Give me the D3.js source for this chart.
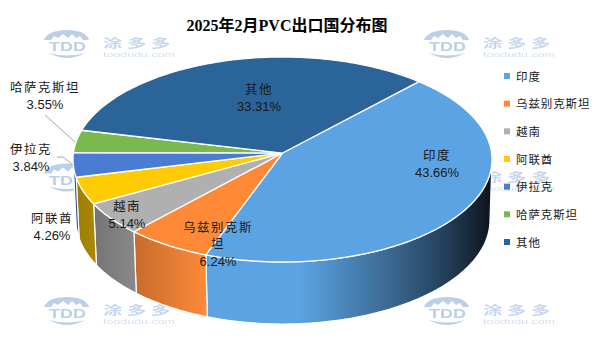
<!DOCTYPE html>
<html>
<head>
<meta charset="utf-8">
<script src="https://cdn.jsdelivr.net/npm/d3@7/dist/d3.min.js"></script>
<style>
html, body { margin: 0; padding: 0; background: #fff; }
text { font-family: "Noto Sans CJK SC", "Liberation Sans", sans-serif; fill: #1a1a1a; }
</style>
</head>
<body>
<div id="chart"></div>
<script>
var categories = ["印度", "乌兹别克斯坦", "越南", "阿联酋", "伊拉克", "哈萨克斯坦", "其他"];
var shares = [43.66, 6.24, 5.14, 4.26, 3.84, 3.55, 33.31];
var shareLabels = ["43.66%", "6.24%", "5.14%", "4.26%", "3.84%", "3.55%", "33.31%"];
var colors = ["#5ba3e2", "#fe8a38", "#b0b0b0", "#ffcb05", "#4a7dd2", "#7ab94d", "#2b6499"];
var chartTitle = "2025年2月PVC出口国分布图";

var width = 600, height = 360;

var svg = d3.select("#chart").append("svg")
    .attr("width", width)
    .attr("height", height)
    .style("display", "block");

var defs = svg.append("defs");

defs.append("filter").attr("id", "soft")
    .append("feGaussianBlur").attr("stdDeviation", 0.45);

// watermark, repeated behind the pie
function watermark(x, y) {
    var g = svg.append("g")
        .attr("transform", "translate(" + x + "," + y + ")")
        .attr("filter", "url(#soft)");
    var wm = "#bccfe9";
    g.append("path")
        .attr("d", "M1,10 Q5,0 24,0 Q43,0 46,10 L40,10 L37,6 L33,8 L29,4 L25,8 L20,4 L15,8 L11,6 L8,10 Z")
        .attr("fill", wm);
    g.append("path")
        .attr("d", "M6,23 Q24,33 42,23 Q24,28 6,23 Z")
        .attr("fill", wm);
    g.append("text").attr("x", 6).attr("y", 21)
        .attr("textLength", 37).attr("lengthAdjust", "spacingAndGlyphs")
        .style("font-family", "Liberation Sans").style("font-weight", "bold")
        .style("font-size", "13px").style("fill", wm)
        .text("TDD");
    // the three characters are drawn wider than they are tall
    var wordScale = 1.55;
    g.append("g")
        .attr("transform", "translate(60,18) scale(" + wordScale + ",1)")
        .append("text")
        .style("font-weight", "bold").style("font-size", "12.5px")
        .style("letter-spacing", "3px").style("fill", "#c6d6ec")
        .text("涂多多");
    g.append("text").attr("x", 60).attr("y", 27)
        .attr("textLength", 72).attr("lengthAdjust", "spacingAndGlyphs")
        .style("font-family", "Liberation Sans")
        .style("font-size", "8px").style("fill", "#d3dfef")
        .text("toodudu.com");
}
[30, 163.5, 297].forEach(function(y) {
    watermark(43, y);
    watermark(423, y);
});

// pie geometry: the disc is seen in perspective, so the apex sits above the ellipse centre
var top_ = {cx: 282.5, cy: 159.5, rx: 209.5, ry: 102.5};
var bottom_ = {cx: 283, cy: 220, rx: 207, ry: 104};
var k = -0.063;
var startDeg = 43;

function project(angle, e) {
    var u = Math.sin(angle), v = -Math.cos(angle);
    var d = 1 + k * v;
    return [
        e.cx + e.rx * Math.sqrt(1 - k * k) * u / d,
        e.cy + e.ry * (v + k) / d
    ];
}

var apex = [top_.cx, top_.cy + top_.ry * k];

var pie = d3.pie()
    .sort(null)
    .startAngle(startDeg * Math.PI / 180)
    .endAngle(startDeg * Math.PI / 180 + 2 * Math.PI);

var arcs = pie(shares);
var line = d3.line();

function rimPoints(a0, a1, e) {
    var n = Math.max(2, Math.ceil((a1 - a0) / 0.02));
    return d3.range(n + 1).map(function(i) {
        return project(a0 + (a1 - a0) * i / n, e);
    });
}

// wall shading runs left to right across the whole pie
var shadeStops = [[78, 0.62], [135, 0.78], [206, 1.0], [300, 1.0], [380, 0.68], [440, 0.42], [475, 0.22], [491, 0.12]];
var xFrac = d3.scaleLinear().domain([78, 491]).range([0, 1]);

colors.forEach(function(c, i) {
    var grad = defs.append("linearGradient")
        .attr("id", "wall" + i)
        .attr("gradientUnits", "userSpaceOnUse")
        .attr("x1", 78).attr("x2", 491).attr("y1", 0).attr("y2", 0);
    shadeStops.forEach(function(s) {
        var col = d3.rgb(c);
        grad.append("stop")
            .attr("offset", xFrac(s[0]))
            .attr("stop-color", d3.rgb(col.r * s[1], col.g * s[1], col.b * s[1]).formatHex());
    });
});

// only the front part of the rim has a visible wall
var visFrom = Math.acos(k);
var visTo = 2 * Math.PI - visFrom;

var walls = [];
arcs.forEach(function(d, i) {
    var a0 = d.startAngle, a1 = d.endAngle;
    if (a0 > 2 * Math.PI) { a0 -= 2 * Math.PI; a1 -= 2 * Math.PI; }
    var from = Math.max(a0, visFrom), to = Math.min(a1, visTo);
    if (to > from) walls.push({i: i, from: from, to: to});
});

svg.append("g").selectAll("path")
    .data(walls)
    .enter().append("path")
    .attr("d", function(d) {
        var pts = rimPoints(d.from, d.to, top_).concat(rimPoints(d.from, d.to, bottom_).reverse());
        return line(pts) + "Z";
    })
    .attr("fill", function(d) { return "url(#wall" + d.i + ")"; })
    .attr("stroke", "#fff")
    .attr("stroke-width", 1.2)
    .attr("stroke-linejoin", "round");

svg.append("g").selectAll("path")
    .data(arcs)
    .enter().append("path")
    .attr("d", function(d) {
        return line([apex].concat(rimPoints(d.startAngle, d.endAngle, top_))) + "Z";
    })
    .attr("fill", function(d, i) { return colors[i]; })
    .attr("stroke", "#fff")
    .attr("stroke-width", 1.3)
    .attr("stroke-linejoin", "round");

// leader lines
var leaders = [
    [[45, 115], [75, 142]],
    [[57, 157], [63, 157], [73, 165]]
];
svg.append("g").selectAll("path")
    .data(leaders)
    .enter().append("path")
    .attr("d", function(d) { return line(d); })
    .attr("fill", "none")
    .attr("stroke", "#a6a6a6")
    .attr("stroke-width", 1);

// data labels, placed by hand like the original
var labelPos = [[437, 155], [218, 227], [127, 206], [52, 218], [31, 149], [45, 87], [259, 89]];

var labels = svg.append("g").selectAll("g")
    .data(categories)
    .enter().append("g")
    .attr("transform", function(d, i) { return "translate(" + labelPos[i][0] + "," + labelPos[i][1] + ")"; });

labels.each(function(name, i) {
    var g = d3.select(this);
    var rows = i === 1 ? [name.slice(0, 5), name.slice(5)] : [name];
    rows.forEach(function(r, j) {
        g.append("text")
            .attr("text-anchor", "middle")
            .attr("y", j * 16 + 4.5)
            .style("font-size", "12.5px")
            .style("letter-spacing", "1.5px")
            .text(r);
    });
    g.append("text")
        .attr("text-anchor", "middle")
        .attr("y", (rows.length - 1) * 17 + 22)
        .style("font-family", "Liberation Sans")
        .style("font-size", "13px")
        .text(shareLabels[i]);
});

// legend
var legendY = d3.scalePoint().domain(categories).range([76, 242]);

var legend = svg.append("g").selectAll("g")
    .data(categories)
    .enter().append("g")
    .attr("transform", function(d) { return "translate(504," + legendY(d) + ")"; });

legend.append("rect")
    .attr("y", -3)
    .attr("width", 6)
    .attr("height", 6)
    .attr("fill", function(d, i) { return colors[i]; });

legend.append("text")
    .attr("x", 12)
    .attr("y", 4.5)
    .style("font-size", "11.5px")
    .style("letter-spacing", "0.9px")
    .text(function(d) { return d; });

svg.append("text")
    .attr("x", 287)
    .attr("y", 31)
    .attr("text-anchor", "middle")
    .style("font-family", '"Liberation Serif", "Noto Sans CJK SC", serif')
    .style("font-weight", "bold")
    .style("font-size", "16px")
    .style("fill", "#000")
    .text(chartTitle);
</script>
</body>
</html>
